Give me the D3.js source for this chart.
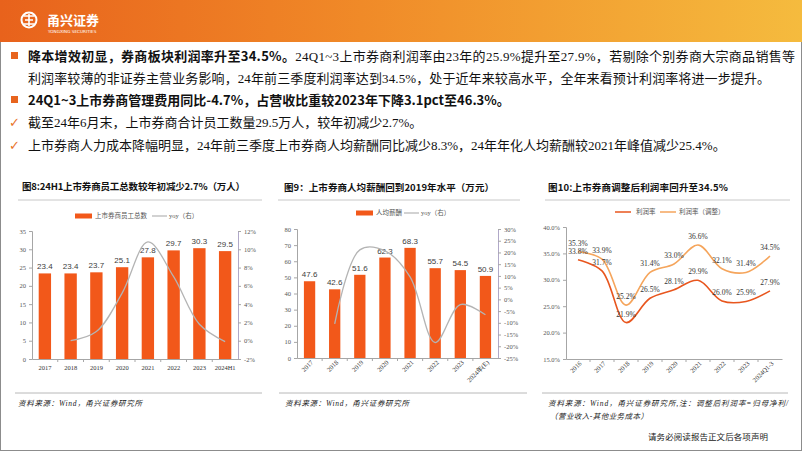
<!DOCTYPE html>
<html><head><meta charset="utf-8">
<script src="https://cdn.jsdelivr.net/npm/d3@7"></script>
<style>body{margin:0;background:#fff}svg{display:block}</style>
</head><body>
<svg id="c" width="802" height="451"></svg>
<script>
// ---------------- DATA ----------------
const staffYears = ["2017","2018","2019","2020","2021","2022","2023","2024H1"];
const staffCount = [23.4,23.4,23.7,25.1,27.8,29.7,30.3,29.5];
const staffYoy = [null,0.0,1.0,5.2,10.8,7.0,1.8,-0.1];
const staffLeftTicks = [0,5,10,15,20,25,30,35];
const staffRightTicks = [-2,0,2,4,6,8,10,12];

const payYears = ["2017","2018","2019","2020","2021","2022","2023","2024年(E)"];
const payValue = [47.6,42.6,51.6,62.3,68.3,55.7,54.5,50.9];
const payYoy = [null,-10.5,21.1,20.7,9.6,-18.4,-2.2,-6.6];
const payLeftTicks = [0,10,20,30,40,50,60,70,80];
const payRightTicks = [-25,-20,-15,-10,-5,0,5,10,15,20,25,30];

const marginYears = ["2016","2017","2018","2019","2020","2021","2022","2023","2024Q1-3"];
const marginRaw = [33.8,31.7,21.9,26.5,28.1,29.9,26.0,25.9,27.9];
const marginAdj = [35.3,33.9,25.2,31.4,33.0,36.6,32.1,31.4,34.5];
const marginTicks = [15,20,25,30,35,40];

const bulletLines = [
  {mark:"sq", parts:[{t:"降本增效初显，券商板块利润率升至34.5%。",b:true},{t:"24Q1~3上市券商利润率由23年的25.9%提升至27.9%，若剔除个别券商大宗商品销售等",b:false}]},
  {mark:null, parts:[{t:"利润率较薄的非证券主营业务影响，24年前三季度利润率达到34.5%，处于近年来较高水平，全年来看预计利润率将进一步提升。",b:false}]},
  {mark:"sq", parts:[{t:"24Q1~3上市券商管理费用同比-4.7%，占营收比重较2023年下降3.1pct至46.3%。",b:true}]},
  {mark:"ck", parts:[{t:"截至24年6月末，上市券商合计员工数量29.5万人，较年初减少2.7%。",b:false}]},
  {mark:"ck", parts:[{t:"上市券商人力成本降幅明显，24年前三季度上市券商人均薪酬同比减少8.3%，24年年化人均薪酬较2021年峰值减少25.4%。",b:false}]}
];

// ---------------- STYLE ----------------
const SERIF = "'Liberation Serif','Noto Sans CJK SC',serif";
const CJK = "'Noto Sans CJK SC','Liberation Serif',sans-serif";
const BAR = "#f2581a";
const svg = d3.select("#c");

function fit(sel, w){
  const n = sel.text().length;
  const cur = sel.node().getComputedTextLength();
  sel.attr("letter-spacing", ((w-cur)/(n-1)).toFixed(3));
}

// frame
svg.append("rect").attr("x",0.5).attr("y",0.5).attr("width",801).attr("height",450)
  .attr("fill","#fff").attr("stroke","#8c8c8c");

// header
const defs = svg.append("defs");
const g1 = defs.append("linearGradient").attr("id","hg");
g1.append("stop").attr("offset","0%").attr("stop-color","#e8621c");
g1.append("stop").attr("offset","45%").attr("stop-color","#f08a28");
g1.append("stop").attr("offset","100%").attr("stop-color","#f5bb3e");
svg.append("rect").attr("x",0).attr("y",0).attr("width",802).attr("height",42).attr("fill","url(#hg)");
// logo
const lg = svg.append("g");
lg.append("circle").attr("cx",29).attr("cy",20).attr("r",7.5).attr("fill","none").attr("stroke","#fff").attr("stroke-width",2);
lg.append("path").attr("d","M24,16 H34 M25,20 H33 M24,24 H34 M29,14 V26").attr("stroke","#fff").attr("stroke-width",1.6).attr("fill","none");
lg.append("text").attr("x",47).attr("y",25).attr("fill","#fff").attr("font-family",CJK).attr("font-weight","bold").attr("font-size",13).text("甬兴证券");
lg.append("text").attr("x",48).attr("y",33).attr("fill","#fff").attr("font-family","'DejaVu Sans',sans-serif").attr("font-size",4.2).text("YONGXING SECURITIES");

// bullets
const lineY = [61,83,105,127,150];
const lineEnd = [795,770,null,null,null];
bulletLines.forEach((ln,i)=>{
  const y = lineY[i];
  if(ln.mark==="sq"){
    svg.append("rect").attr("x",11).attr("y",y-9).attr("width",7).attr("height",7).attr("fill","#e8641e");
  } else if(ln.mark==="ck"){
    svg.append("text").attr("x",9).attr("y",y).attr("font-family","'DejaVu Sans',sans-serif").attr("font-size",13).attr("fill","#e8742a").text("✓");
  }
  const t = svg.append("text").attr("x",28).attr("y",y).attr("font-family",SERIF).attr("font-size",13).attr("fill","#111");
  ln.parts.forEach(p=>{
    t.append("tspan").attr("font-weight",p.b?"bold":"normal").attr("font-family",p.b?CJK:SERIF).text(p.t);
  });
  if(lineEnd[i]) fit(t, lineEnd[i]-28);
});

// titles
function title(x,y,txt,w,lx0,lx1){
  const t = svg.append("text").attr("x",x).attr("y",y).attr("font-family",CJK).attr("font-weight","bold").attr("font-size",9.5).attr("fill","#111").text(txt);
  fit(t,w);
  svg.append("line").attr("x1",lx0).attr("x2",lx1).attr("y1",200).attr("y2",200).attr("stroke","#c8c8c8");
}
title(22,190,"图8:24H1上市券商员工总数较年初减少2.7%（万人）",223,18,262);
title(284,191,"图9：上市券商人均薪酬回到2019年水平（万元）",210,278,520);
title(548,191,"图10:上市券商调整后利润率回升至34.5%",180,545,790);

// sources
function source(x,y,txt,w){
  const t = svg.append("text").attr("x",x).attr("y",y).attr("font-family",SERIF).attr("font-style","italic").attr("font-size",7.5).attr("fill","#222").text(txt);
  if(w) fit(t,w);
}
[[15,262],[279,527],[542,788]].forEach(d=>svg.append("line").attr("x1",d[0]).attr("x2",d[1]).attr("y1",393).attr("y2",393).attr("stroke","#b8b8b8"));
source(18,406,"资料来源：Wind，甬兴证券研究所",124);
source(285,406,"资料来源：Wind，甬兴证券研究所",124);
source(548,406,"资料来源：Wind，甬兴证券研究所,注：调整后利润率=归母净利/",240);
source(550,419,"（营业收入-其他业务成本）",98);
const ft = svg.append("text").attr("x",648).attr("y",440).attr("font-family",CJK).attr("font-size",8.5).attr("fill","#222").text("请务必阅读报告正文后各项声明");
fit(ft,120);

// ------------- combo bar+line -------------
function combo(o){
  const g = svg.append("g");
  const x = d3.scaleBand().domain(o.cats).range([o.x0,o.x1]).paddingInner(o.pi).paddingOuter(o.pi/2);
  const yl = d3.scaleLinear().domain(o.ld).range([o.yb,o.yt]);
  const yr = d3.scaleLinear().domain(o.rd).range([o.yb,o.yt]);
  const al = g.append("g").attr("transform",`translate(${o.x0},0)`).call(d3.axisLeft(yl).tickValues(o.lt).tickSize(3).tickFormat(d3.format("d")));
  const ar = g.append("g").attr("transform",`translate(${o.x1},0)`).call(d3.axisRight(yr).tickValues(o.rt).tickSize(3).tickFormat(d=>d+"%"));
  const ab = g.append("g").attr("transform",`translate(0,${o.yb})`).call(d3.axisBottom(x).tickSize(0).tickFormat(""));
  [al,ar,ab].forEach(a=>{
    a.selectAll("path,line").attr("stroke","#a6a6a6");
    a.selectAll("text").attr("font-family",SERIF).attr("font-size",6.5).attr("fill","#555");
  });
  ar.select("path").attr("stroke","#b0a8c8");
  g.selectAll(".bt").data(o.cats.slice(1)).join("line")
    .attr("x1",d=>x(d)-x.step()*x.paddingInner()/2).attr("x2",d=>x(d)-x.step()*x.paddingInner()/2)
    .attr("y1",o.yb).attr("y2",o.yb+3).attr("stroke","#a6a6a6");
  g.selectAll(".b").data(o.vals).join("rect")
    .attr("x",(d,i)=>x(o.cats[i])).attr("width",x.bandwidth())
    .attr("y",d=>yl(d)).attr("height",d=>o.yb-yl(d)).attr("fill",BAR);
  g.selectAll(".vl").data(o.vals).join("text")
    .attr("x",(d,i)=>x(o.cats[i])+x.bandwidth()/2).attr("y",d=>yl(d)-4)
    .attr("text-anchor","middle").attr("font-family","'Liberation Sans',Arial,sans-serif").attr("font-size",8).attr("fill","#404040")
    .text(d=>d.toFixed(1));
  const pts = o.yoy.map((v,i)=>v==null?null:[x(o.cats[i])+x.bandwidth()/2, yr(v)]).filter(p=>p);
  g.append("path").attr("d",d3.line().curve(d3.curveCatmullRom.alpha(0.5))(pts))
    .attr("fill","none").attr("stroke","#b4b4b4").attr("stroke-width",1.3);
  const xl = g.selectAll(".xl").data(o.cats).join("text")
    .attr("font-family",SERIF).attr("font-size",6.5).attr("fill","#333").text(d=>d);
  if(o.rot){
    xl.attr("text-anchor","end").attr("transform",d=>`translate(${x(d)+x.bandwidth()/2+4},${o.yb+5}) rotate(-45)`);
  } else {
    xl.attr("text-anchor","middle").attr("x",d=>x(d)+x.bandwidth()/2).attr("y",o.yb+11);
  }
  const L = o.leg;
  g.append("rect").attr("x",L.rx).attr("y",L.y-2.5).attr("width",17).attr("height",5).attr("fill",BAR);
  g.append("text").attr("x",L.rx+20).attr("y",L.y+2.3).attr("font-family",SERIF).attr("font-size",6.5).attr("fill","#555").text(L.bt);
  g.append("line").attr("x1",L.lx).attr("x2",L.lx+15).attr("y1",L.y).attr("y2",L.y).attr("stroke","#b4b4b4").attr("stroke-width",1.2);
  g.append("text").attr("x",L.lx+17).attr("y",L.y+2.3).attr("font-family",SERIF).attr("font-size",6.5).attr("fill","#555").text("yoy（右）");
}

combo({cats:staffYears, vals:staffCount, yoy:staffYoy, x0:32, x1:238, pi:0.52,
  yb:359, yt:231, ld:[0,35], rd:[-2,12], lt:staffLeftTicks, rt:staffRightTicks, rot:false,
  leg:{y:216, rx:75, bt:"上市券商员工总数", lx:152}});
combo({cats:payYears, vals:payValue, yoy:payYoy, x0:297, x1:498, pi:0.55,
  yb:358, yt:229, ld:[0,80], rd:[-25,30], lt:payLeftTicks, rt:payRightTicks, rot:true,
  leg:{y:213, rx:356, bt:"人均薪酬", lx:404}});

// ------------- chart 10 lines -------------
(function(){
  const g = svg.append("g");
  const x = d3.scaleBand().domain(marginYears).range([566,782]);
  const y = d3.scaleLinear().domain([15,40]).range([359,227]);
  const cx = d=>x(d)+x.bandwidth()/2;
  const al = g.append("g").attr("transform","translate(566,0)").call(d3.axisLeft(y).tickValues(marginTicks).tickSize(3).tickFormat(d=>d.toFixed(1)+"%"));
  const ab = g.append("g").attr("transform","translate(0,359)").call(d3.axisBottom(x).tickSize(0).tickFormat(""));
  [al,ab].forEach(a=>{
    a.selectAll("path,line").attr("stroke","#a6a6a6");
    a.selectAll("text").attr("font-family",SERIF).attr("font-size",6.5).attr("fill","#555");
  });
  g.selectAll(".bt").data(marginYears.slice(1)).join("line")
    .attr("x1",d=>x(d)).attr("x2",d=>x(d)).attr("y1",359).attr("y2",362).attr("stroke","#a6a6a6");
  const line = d3.line().x((d,i)=>cx(marginYears[i])).y(d=>y(d)).curve(d3.curveCatmullRom.alpha(0.5));
  const series = [{v:marginAdj,c:"#f5a55c"},{v:marginRaw,c:"#e8561e"}];
  series.forEach(s=>{
    g.append("path").attr("d",line(s.v)).attr("fill","none").attr("stroke",s.c).attr("stroke-width",1.6);
  });
  series.forEach(s=>{
    g.selectAll(null).data(s.v).join("text")
      .attr("x",(d,i)=>cx(marginYears[i])).attr("y",d=>y(d)-6)
      .attr("text-anchor","middle").attr("font-family",SERIF).attr("font-size",7.5).attr("fill","#333")
      .text(d=>d.toFixed(1)+"%");
  });
  g.selectAll(".xl").data(marginYears).join("text")
    .attr("font-family",SERIF).attr("font-size",6.5).attr("fill","#333").attr("text-anchor","end")
    .attr("transform",d=>`translate(${cx(d)+4},${364}) rotate(-45)`).text(d=>d);
  const ly = 212;
  g.append("line").attr("x1",615).attr("x2",631).attr("y1",ly).attr("y2",ly).attr("stroke","#e8561e").attr("stroke-width",1.5);
  g.append("text").attr("x",636).attr("y",ly+2.3).attr("font-family",SERIF).attr("font-size",6.5).attr("fill","#555").text("利润率");
  g.append("line").attr("x1",660).attr("x2",676).attr("y1",ly).attr("y2",ly).attr("stroke","#f5a55c").attr("stroke-width",1.5);
  g.append("text").attr("x",679).attr("y",ly+2.3).attr("font-family",SERIF).attr("font-size",6.5).attr("fill","#555").text("利润率（调整）");
})();
</script>
</body></html>
